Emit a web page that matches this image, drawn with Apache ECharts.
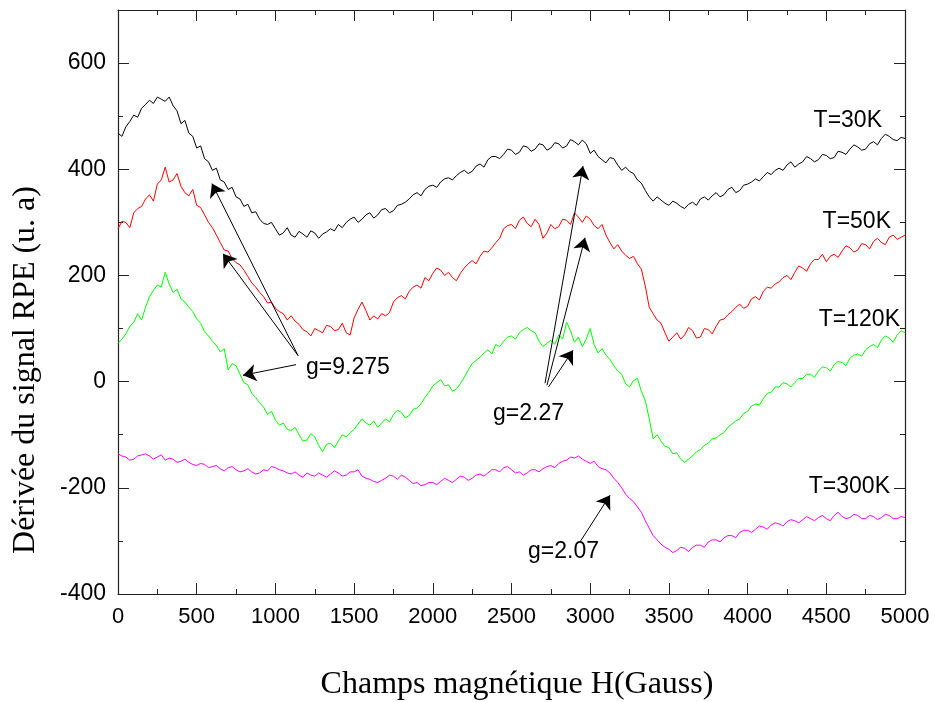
<!DOCTYPE html>
<html>
<head>
<meta charset="utf-8">
<script src="https://cdn.jsdelivr.net/npm/echarts@6/dist/echarts.min.js"></script>
<style>html,body{margin:0;padding:0;background:#fff;}#c{width:935px;height:702px;}</style>
</head>
<body>
<div id="c"></div>
<script>
// Magnetic field sample points (Gauss), step 25 from 0 to 5000
const H = [];
for (let h = 0; h <= 5000; h += 25) H.push(h);

const T30K = [
468,462,480,490,502,498,515,522,530,524,536,532,528,536,520,510,486,492,468,462,
440,444,420,414,398,402,380,376,362,366,348,344,330,334,318,320,306,298,296,300,
288,276,280,290,276,272,283,278,272,284,280,270,278,282,288,284,296,290,300,306,
310,300,306,314,318,308,314,324,326,318,322,332,334,338,344,352,356,350,362,368,
370,366,376,382,384,380,388,394,398,392,396,406,410,404,418,424,424,420,428,438,
436,428,432,444,442,434,438,448,446,436,440,450,448,440,444,456,452,446,455,448,
430,436,424,418,412,422,420,408,398,404,396,392,380,374,360,348,340,348,342,336,
332,340,336,330,326,334,338,332,344,348,342,350,356,348,352,362,366,356,360,370,
372,376,382,378,386,394,390,398,402,398,408,414,404,410,414,424,420,414,418,428,
426,420,422,434,432,428,438,446,442,436,438,448,452,446,458,466,462,456,454,460,
458];

const T50K = [
288,302,300,290,318,326,330,344,352,340,372,380,404,376,380,392,368,356,350,362,
332,328,314,300,290,276,262,248,246,232,224,220,210,198,186,178,168,160,148,150,
138,132,128,116,124,114,108,98,94,86,100,96,92,106,104,96,98,110,92,88,
120,136,150,134,116,124,118,128,124,130,150,158,162,156,170,178,182,176,196,190,
204,214,210,200,206,196,190,204,214,222,228,222,236,246,244,252,262,270,288,294,
296,288,304,310,298,292,306,296,270,280,296,288,292,306,304,296,318,310,300,312,
306,294,288,296,276,262,250,258,246,238,232,236,222,212,180,140,128,116,110,92,
76,84,92,80,88,102,96,82,84,100,98,90,104,116,118,126,132,140,146,138,
142,156,160,154,170,178,176,184,188,196,200,192,206,218,214,208,222,230,230,240,
226,236,240,234,246,256,252,244,248,260,258,250,264,270,262,258,272,276,268,272,
276];

const T120K = [
72,80,90,104,112,128,116,140,160,172,182,178,206,184,168,174,156,150,140,132,
118,110,94,86,76,68,56,62,22,34,30,14,-2,-6,-22,-30,-40,-48,-62,-56,
-72,-82,-78,-90,-92,-86,-100,-112,-110,-98,-104,-120,-132,-118,-116,-124,-112,-100,-104,-96,
-90,-80,-70,-78,-82,-74,-86,-78,-70,-76,-62,-54,-58,-68,-64,-52,-50,-42,-30,-20,
-8,-2,4,-8,-6,-18,-14,-4,8,22,34,40,46,54,60,52,70,66,76,84,
86,80,92,98,102,96,92,76,66,72,78,70,88,80,112,96,74,84,66,80,
100,70,54,62,50,42,30,20,14,-4,-10,2,6,-18,-36,-70,-108,-100,-112,-122,
-124,-136,-134,-146,-152,-146,-140,-132,-128,-120,-116,-108,-106,-100,-96,-86,-80,-74,-70,-60,
-56,-46,-42,-44,-32,-22,-20,-10,-10,-2,-4,-10,-2,6,6,14,14,8,20,28,
26,20,32,38,36,30,44,50,52,48,60,66,70,64,78,86,82,74,88,96,
92];

const T300K = [
-136,-140,-142,-148,-146,-140,-138,-136,-140,-146,-142,-138,-148,-144,-146,-152,-150,-146,-152,-156,
-158,-154,-156,-162,-160,-158,-164,-168,-162,-160,-166,-170,-168,-164,-170,-174,-172,-166,-168,-160,
-162,-166,-168,-172,-174,-170,-176,-180,-172,-176,-178,-172,-176,-180,-174,-168,-172,-178,-176,-170,
-170,-166,-178,-182,-184,-188,-190,-186,-182,-176,-178,-184,-176,-180,-186,-192,-190,-196,-194,-190,
-190,-194,-188,-182,-186,-190,-184,-178,-180,-186,-182,-176,-174,-178,-172,-166,-166,-170,-162,-160,
-166,-172,-170,-176,-172,-166,-166,-170,-164,-160,-158,-162,-154,-150,-148,-142,-144,-140,-146,-150,
-154,-150,-160,-164,-166,-172,-182,-190,-200,-212,-220,-226,-236,-246,-262,-276,-290,-298,-306,-312,
-316,-322,-318,-312,-314,-320,-312,-308,-308,-312,-302,-298,-298,-302,-294,-290,-290,-294,-284,-280,
-280,-284,-278,-272,-274,-278,-270,-266,-268,-272,-264,-260,-262,-266,-260,-254,-258,-262,-256,-252,
-258,-262,-252,-246,-254,-258,-256,-250,-252,-258,-258,-252,-254,-260,-256,-250,-252,-258,-258,-254,
-256];

const seriesNames = ['T=30K','T=50K','T=120K','T=300K'];
const seriesColors = ['#000000','#ff0000','#00ff00','#ff00ff'];
const seriesValues = [T30K, T50K, T120K, T300K];

const xTicks = [0,500,1000,1500,2000,2500,3000,3500,4000,4500,5000];
const yTicks = [-400,-200,0,200,400,600];

// annotation arrows: [startH, startY, tipH, tipY]
const arrows = [
  [1144, 49, 597, 373],
  [1144, 49, 667, 241],
  [1131, 32, 794, 12],
  [2713, -3, 2954, 406],
  [2725, -7, 2967, 271],
  [2735, -10, 2891, 59],
  [2935, -302, 3126, -214]
];

const chart = echarts.init(document.getElementById('c'), null, {renderer: 'canvas'});

const axisCommon = {
  type: 'value',
  axisLine: {show: true, onZero: false, lineStyle: {color: '#222', width: 1.2}},
  splitLine: {show: false},
  axisTick: {show: true, inside: true, length: 11, lineStyle: {color: '#222', width: 1}},
  minorTick: {show: true, splitNumber: 2, length: 5, lineStyle: {color: '#222', width: 1}}
};

const series = seriesValues.map((vals, i) => ({
  name: seriesNames[i],
  type: 'line',
  data: H.map((h, j) => [h, vals[j]]),
  showSymbol: false,
  symbol: 'none',
  lineStyle: {color: seriesColors[i], width: 1},
  itemStyle: {color: seriesColors[i]},
  z: 3
}));

series.push({
  name: 'annot',
  type: 'line',
  data: [],
  symbol: 'none',
  markLine: {
    silent: true,
    symbol: ['none', 'arrow'],
    symbolSize: 13,
    label: {show: false},
    lineStyle: {color: '#000', width: 1, type: 'solid'},
    data: arrows.map(a => [{coord: [a[0], a[1]]}, {coord: [a[2], a[3]]}])
  },
  z: 4
});

const annFont = {fontFamily: 'Liberation Sans, Arial, sans-serif', fontSize: 23, fill: '#000'};

chart.setOption({
  animation: false,
  backgroundColor: '#fff',
  grid: {left: 118, right: 30, top: 10, bottom: 108},
  xAxis: [
    Object.assign({}, axisCommon, {
      position: 'bottom', min: 0, max: 5000, interval: 500,
      axisLabel: {show: true, color: '#000', fontSize: 22, fontFamily: 'Liberation Sans, Arial, sans-serif', margin: 12,
        formatter: v => (xTicks.indexOf(v) >= 0 ? String(v) : '')}
    }),
    Object.assign({}, axisCommon, {
      position: 'top', min: 0, max: 5000, interval: 500, axisLabel: {show: false}
    })
  ],
  yAxis: [
    Object.assign({}, axisCommon, {
      position: 'left', min: -400, max: 700, interval: 200,
      axisLabel: {show: true, color: '#000', fontSize: 23, fontFamily: 'Liberation Sans, Arial, sans-serif', margin: 12,
        formatter: v => (yTicks.indexOf(v) >= 0 ? String(v) : '')}
    }),
    Object.assign({}, axisCommon, {
      position: 'right', min: -400, max: 700, interval: 200, axisLabel: {show: false}
    })
  ],
  series: series,
  graphic: [
    {type: 'text', x: 882, y: 121, style: Object.assign({text: 'T=30K', textAlign: 'right', textVerticalAlign: 'middle'}, annFont), z: 10},
    {type: 'text', x: 891, y: 222, style: Object.assign({text: 'T=50K', textAlign: 'right', textVerticalAlign: 'middle'}, annFont), z: 10},
    {type: 'text', x: 900, y: 320, style: Object.assign({text: 'T=120K', textAlign: 'right', textVerticalAlign: 'middle'}, annFont), z: 10},
    {type: 'text', x: 890, y: 487, style: Object.assign({text: 'T=300K', textAlign: 'right', textVerticalAlign: 'middle'}, annFont), z: 10},
    {type: 'text', x: 306, y: 368, style: Object.assign({text: 'g=9.275', textAlign: 'left', textVerticalAlign: 'middle'}, annFont), z: 10},
    {type: 'text', x: 493, y: 414, style: Object.assign({text: 'g=2.27', textAlign: 'left', textVerticalAlign: 'middle'}, annFont), z: 10},
    {type: 'text', x: 528, y: 552, style: Object.assign({text: 'g=2.07', textAlign: 'left', textVerticalAlign: 'middle'}, annFont), z: 10},
    {type: 'text', x: 517, y: 685, style: {text: 'Champs magnétique H(Gauss)', textAlign: 'center', textVerticalAlign: 'middle',
      fontFamily: 'Liberation Serif, Times New Roman, serif', fontSize: 32, fill: '#000'}, z: 10},
    {type: 'text', x: 26, y: 370, rotation: Math.PI / 2, style: {text: 'Dérivée du signal RPE (u. a)', textAlign: 'center', textVerticalAlign: 'middle',
      fontFamily: 'Liberation Serif, Times New Roman, serif', fontSize: 32, fill: '#000'}, z: 10}
  ]
});
</script>
</body>
</html>
